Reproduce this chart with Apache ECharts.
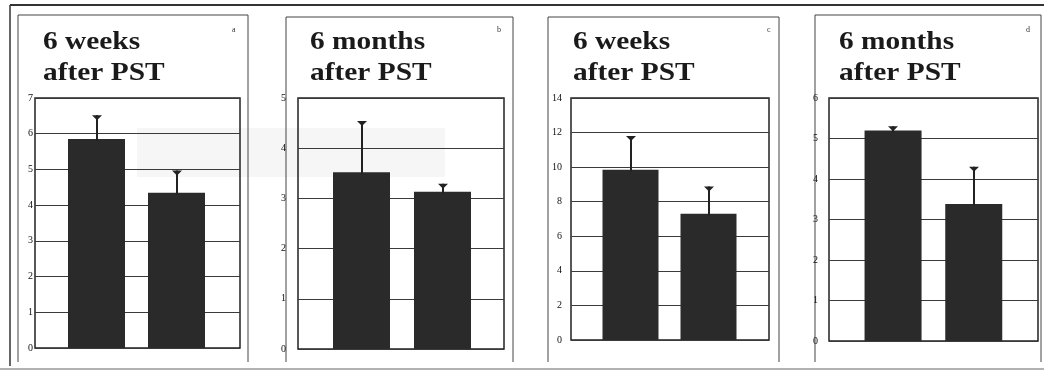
<!DOCTYPE html>
<html>
<head>
<meta charset="utf-8">
<script src="https://cdn.jsdelivr.net/npm/echarts@6/dist/echarts.min.js"></script>
<style>
  html, body { margin: 0; padding: 0; background: #fff; }
  #chart { width: 1044px; height: 371px; }
</style>
</head>
<body>
<div id="chart"></div>
<script>
// two groups per panel, no x labels in the figure
const categories = ['group 1', 'group 2'];
const panelTitles = [
  ['6 weeks', 'after PST'],
  ['6 months', 'after PST'],
  ['6 weeks', 'after PST'],
  ['6 months', 'after PST']
];
const panelLetters = ['a', 'b', 'c', 'd'];
const yMaxes = [7, 5, 14, 6];
const yIntervals = [1, 1, 2, 1];
// bar heights (mean) and upper error (sd)
const meansA = [5.85, 4.35];
const sdA = [0.67, 0.62];
const meansB = [3.52, 3.13];
const sdB = [1.02, 0.16];
const meansC = [9.85, 7.3];
const sdC = [1.95, 1.58];
const meansD = [5.2, 3.38];
const sdD = [0.1, 0.92];

const means = [meansA, meansB, meansC, meansD];
const sds = [sdA, sdB, sdC, sdD];

// panel geometry in px
const layout = [
  { box: [18, 15, 248], frame: [35, 98, 240, 348], bars: [56.5, 160], barW: 57, labM: 2, title: 43, letter: 232 },
  { box: [286, 17, 513], frame: [298, 98, 504, 349], bars: [321, 162], barW: 57, labM: 12, title: 310, letter: 497 },
  { box: [548, 17, 779], frame: [571, 98, 769, 340], bars: [591.5, 156], barW: 56, labM: 9, title: 573, letter: 767 },
  { box: [815, 15, 1041], frame: [829, 98, 1038, 341], bars: [852.7, 161.4], barW: 57, labM: 11, title: 839, letter: 1026 }
];

const grid = [], xAxis = [], yAxis = [], series = [], graphic = [];

// page edges of the scan
graphic.push({ type: 'line', shape: { x1: 10, y1: 5, x2: 1044, y2: 5 }, style: { stroke: '#333', lineWidth: 2 } });
graphic.push({ type: 'line', shape: { x1: 10, y1: 5, x2: 10, y2: 366 }, style: { stroke: '#333', lineWidth: 1.5 } });
graphic.push({ type: 'line', shape: { x1: 0, y1: 369, x2: 1044, y2: 369 }, style: { stroke: '#999', lineWidth: 1.5 } });
// faint grey scan patch
graphic.push({ type: 'rect', z: -1, shape: { x: 137, y: 128, width: 308, height: 49 }, style: { fill: '#f6f6f6' } });

layout.forEach((L, i) => {
  const [fl, ft, fr, fb] = L.frame;
  // frame grid: border, gridlines, tick labels
  grid.push({
    left: fl, top: ft, width: fr - fl, height: fb - ft,
    show: true, borderColor: '#222', borderWidth: 1.5, backgroundColor: 'transparent'
  });
  xAxis.push({ gridIndex: 2 * i, type: 'value', min: 0, max: 1, show: false });
  yAxis.push({
    gridIndex: 2 * i, type: 'value', min: 0, max: yMaxes[i], interval: yIntervals[i],
    axisLine: { show: false }, axisTick: { show: false },
    axisLabel: { margin: L.labM, fontFamily: 'Liberation Serif', fontSize: 10, color: '#111' },
    splitLine: { lineStyle: { color: '#3a3a3a', width: 1 } }
  });
  // bar grid, narrower so bars sit where they do in the figure
  grid.push({ left: L.bars[0], top: ft, width: L.bars[1], height: fb - ft });
  xAxis.push({ gridIndex: 2 * i + 1, type: 'category', data: categories, show: false });
  yAxis.push({ gridIndex: 2 * i + 1, type: 'value', min: 0, max: yMaxes[i], show: false });

  series.push({
    type: 'bar', xAxisIndex: 2 * i + 1, yAxisIndex: 2 * i + 1,
    data: means[i], barWidth: L.barW,
    itemStyle: { color: '#2a2a2a' }, silent: true
  });
  series.push({
    type: 'custom', xAxisIndex: 2 * i + 1, yAxisIndex: 2 * i + 1, z: 3,
    data: means[i].map((m, k) => [k, m, sds[i][k]]),
    renderItem: (params, api) => {
      const base = api.coord([api.value(0), api.value(1)]);
      const top = api.coord([api.value(0), api.value(1) + api.value(2)]);
      const x = Math.round(base[0]);
      return {
        type: 'group',
        children: [
          { type: 'line', shape: { x1: x, y1: base[1] + 2, x2: x, y2: top[1] }, style: { stroke: '#222', lineWidth: 2 } },
          { type: 'polygon', shape: { points: [[x - 5, top[1]], [x + 5, top[1]], [x, top[1] + 5]] }, style: { fill: '#222' } }
        ]
      };
    }
  });

  // panel box (no bottom edge)
  const [bl, bt, br] = L.box;
  graphic.push({
    type: 'polyline', shape: { points: [[bl, 362], [bl, bt], [br, bt], [br, 362]] },
    style: { stroke: '#444', lineWidth: 1, fill: null }
  });
  // title, scan is a little stretched horizontally
  panelTitles[i].forEach((t, k) => {
    graphic.push({
      type: 'text', x: L.title, y: k === 0 ? 42 : 73, scaleX: 1.13,
      style: { text: t, font: 'bold 26px "Liberation Serif"', fill: '#1a1a1a', verticalAlign: 'middle' }
    });
  });
  graphic.push({
    type: 'text', x: L.letter, y: 30,
    style: { text: panelLetters[i], font: '8px "Liberation Serif"', fill: '#333', verticalAlign: 'middle' }
  });
});

const chart = echarts.init(document.getElementById('chart'), null, { renderer: 'canvas' });
chart.setOption({
  backgroundColor: '#fff',
  animation: false,
  grid, xAxis, yAxis, series, graphic
});
</script>
</body>
</html>
